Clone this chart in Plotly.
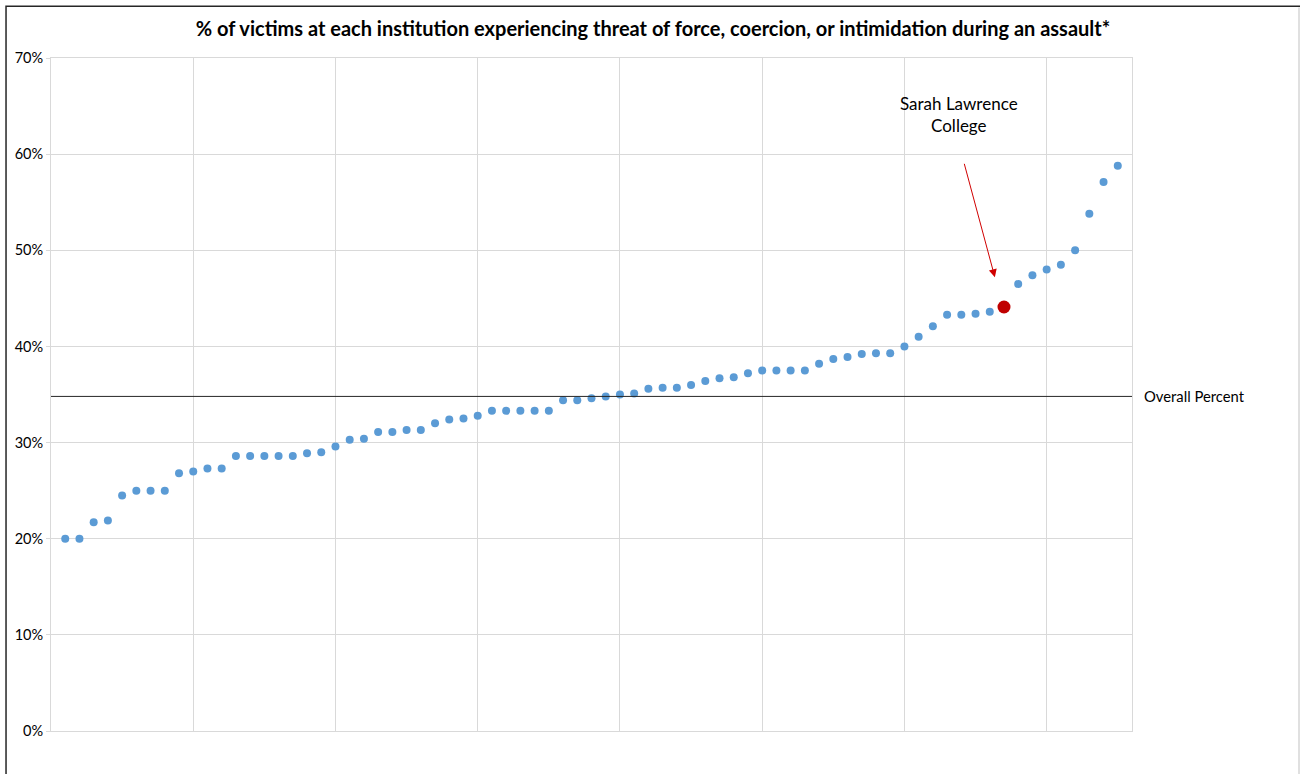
import plotly.graph_objects as go

# Institutions ranked (1..75) and share of victims experiencing threat of force/coercion/intimidation
rank = list(range(1, 76))
pct = [20.0, 20.0, 21.7, 21.9, 24.5, 25.0, 25.0, 25.0, 26.8, 27.0,
       27.3, 27.3, 28.6, 28.6, 28.6, 28.6, 28.6, 28.9, 29.0, 29.6,
       30.3, 30.4, 31.1, 31.1, 31.3, 31.3, 32.0, 32.4, 32.5, 32.8,
       33.3, 33.3, 33.3, 33.3, 33.3, 34.4, 34.4, 34.6, 34.8, 35.0,
       35.1, 35.6, 35.7, 35.7, 36.0, 36.4, 36.7, 36.8, 37.2, 37.5,
       37.5, 37.5, 37.5, 38.2, 38.7, 38.9, 39.2, 39.3, 39.3, 40.0,
       41.0, 42.1, 43.3, 43.3, 43.4, 43.6, 44.1, 46.5, 47.4, 48.0,
       48.5, 50.0, 53.8, 57.1, 58.8]
highlight_rank = 67
highlight_label = "Sarah Lawrence<br>College"
overall_pct = 34.8
overall_label = "Overall Percent"
title_text = "% of victims at each institution experiencing threat of force, coercion, or intimidation during an assault*"

others_x = [r for r in rank if r != highlight_rank]
others_y = [p / 100 for r, p in zip(rank, pct) if r != highlight_rank]
hl_y = pct[rank.index(highlight_rank)] / 100

FONT = "Lato"
fig = go.Figure()
fig.add_trace(go.Scatter(x=others_x, y=others_y, mode="markers",
                         marker=dict(color="#5B9BD5", size=8), showlegend=False))
fig.add_trace(go.Scatter(x=[highlight_rank], y=[hl_y], mode="markers",
                         marker=dict(color="#C00000", size=13), showlegend=False))

# overall percent line
fig.add_shape(type="line", xref="paper", x0=0, x1=1, yref="y", y0=overall_pct / 100, y1=overall_pct / 100,
              line=dict(color="#262626", width=1))
fig.add_annotation(xref="paper", x=1, xshift=10, yref="y", y=overall_pct / 100, text=overall_label,
                   showarrow=False, xanchor="left", yanchor="middle",
                   font=dict(family=FONT, size=14.8, color="#000000"))

# callout
fig.add_annotation(x=highlight_rank - 0.64, y=hl_y + 0.031, ax=highlight_rank - 2.82, ay=hl_y + 0.1505,
                   axref="x", ayref="y", text="", showarrow=True, arrowhead=2, arrowsize=1.6,
                   arrowwidth=1, arrowcolor="#D00000")
fig.add_annotation(x=highlight_rank - 3.17, y=0.6413, text=highlight_label, showarrow=False,
                   xanchor="center", yanchor="middle", align="center",
                   font=dict(family=FONT, size=17, color="#000000"))

# chart outer border (left and top dark, right light)
fig.add_shape(type="rect", xref="paper", yref="paper", x0=-0.0416, x1=1.17, y0=-0.08, y1=1.077,
              line=dict(color="#262626", width=1.5), fillcolor="rgba(0,0,0,0)", layer="above")
fig.add_shape(type="line", xref="paper", yref="paper", x0=1.1545, x1=1.1545, y0=-0.08, y1=1.075,
              line=dict(color="#E0E0E0", width=2), layer="above")

fig.update_layout(
    width=1300, height=774,
    margin=dict(l=51, r=168, t=58, b=43),
    paper_bgcolor="white", plot_bgcolor="white",
    title=dict(text="<b>" + title_text + "</b>", x=0.5023, xref="container", xanchor="center",
               y=1 - 29 / 774, yref="container", yanchor="middle",
               font=dict(family=FONT, size=20, color="#000000")),
    font=dict(family=FONT, size=14.5, color="#000000"),
)
fig.update_xaxes(range=[0, 76], dtick=10, tick0=0, showticklabels=False, showgrid=True,
                 gridcolor="#D9D9D9", gridwidth=1, zeroline=False, showline=True,
                 linecolor="#D9D9D9", linewidth=1, mirror=True, ticks="")
fig.update_yaxes(range=[0, 0.7], dtick=0.1, tick0=0, tickformat=".0%", showgrid=True,
                 gridcolor="#D9D9D9", gridwidth=1, zeroline=False, showline=True,
                 linecolor="#D9D9D9", linewidth=1, mirror=True, ticks="outside", ticklen=4,
                 tickcolor="#D9D9D9", tickfont=dict(family=FONT, size=14.5, color="#000000"))

fig.write_html("out.html", config={"displayModeBar": False},
               post_script="document.body.style.margin='0';document.body.style.overflow='hidden';")
